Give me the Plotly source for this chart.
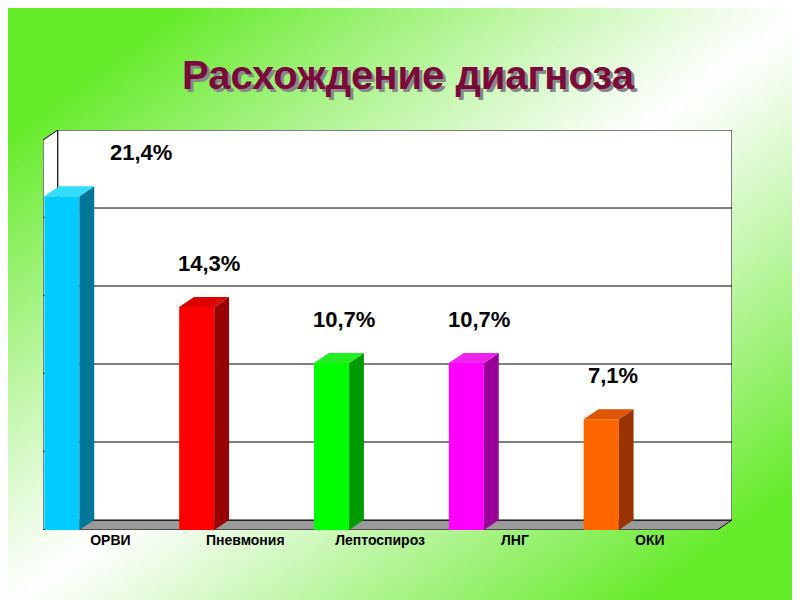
import plotly.graph_objects as go
import zlib, struct, base64

categories = ["ОРВИ", "Пневмония", "Лептоспироз", "ЛНГ", "ОКИ"]
values = [21.4, 14.3, 10.7, 10.7, 7.1]
labels = ["21,4%", "14,3%", "10,7%", "10,7%", "7,1%"]
front = ["#00ccff", "#ff0000", "#00ff00", "#ff00ff", "#ff6600"]
side = ["#007799", "#990000", "#009900", "#990099", "#993300"]
topc = ["#33ddff", "#dd0000", "#22ee22", "#ee22ee", "#dd5500"]

# background gradient PNG
W, H = 160, 120
green = (100, 235, 40)
rows = b""
for y in range(H):
    rows += b"\x00"
    for x in range(W):
        d = (x / (W - 1) + y / (H - 1)) / 2
        g = min(1, abs(2 * d - 1) * 1.25) ** 1.1
        px = [int(255 * (1 - g) + c * g) for c in green]
        rows += bytes(px)
def chunk(t, data):
    c = t + data
    return struct.pack(">I", len(data)) + c + struct.pack(">I", zlib.crc32(c) & 0xffffffff)
png = b"\x89PNG\r\n\x1a\n" + chunk(b"IHDR", struct.pack(">IIBBBBB", W, H, 8, 2, 0, 0, 0)) + chunk(b"IDAT", zlib.compress(rows)) + chunk(b"IEND", b"")
uri = "data:image/png;base64," + base64.b64encode(png).decode()

dx, dy, ymax = 0.11, 0.64, 25
bw = 0.26
L, T, R, B = 35, 122, 76, 78
pw, ph = 800 - L - R, 600 - T - B

fig = go.Figure()
shapes = []
shapes.append(dict(type="path", path=f"M -0.5 0 L 4.5 0 L {4.5+dx} {dy} L {-0.5+dx} {dy} Z",
                   fillcolor="#9a9a9a", line=dict(color="black", width=1), layer="below"))
shapes.append(dict(type="path", path=f"M -0.5 0 L {-0.5+dx} {dy} L {-0.5+dx} {ymax+dy} L -0.5 {ymax} Z",
                   fillcolor="white", line=dict(color="black", width=1), layer="below"))
shapes.append(dict(type="rect", x0=-0.5+dx, x1=4.5+dx, y0=dy, y1=ymax+dy,
                   fillcolor="white", line=dict(color="black", width=1), layer="below"))
for g in [5, 10, 15, 20]:
    shapes.append(dict(type="path", path=f"M -0.5 {g} L {-0.5+dx} {g+dy} L {4.5+dx} {g+dy}",
                       line=dict(color="black", width=1), layer="below"))

xl = [i - 0.49 for i in range(len(values))]
fig.add_trace(go.Bar(x=[a + bw / 2 for a in xl], y=values, width=bw, marker=dict(color=front, line=dict(width=0)),
                     hoverinfo="skip"))
for i, v in enumerate(values):
    a, b = xl[i], xl[i] + bw
    fig.add_trace(go.Scatter(x=[b, b + dx, b + dx, b, b], y=[0, dy, v + dy, v, 0], fill="toself",
                             fillcolor=side[i], line=dict(width=0), mode="lines", hoverinfo="skip"))
    fig.add_trace(go.Scatter(x=[a, b, b + dx, a + dx, a], y=[v, v, v + dy, v + dy, v], fill="toself",
                             fillcolor=topc[i], line=dict(width=0), mode="lines", hoverinfo="skip"))

anns = []
for i, v in enumerate(values):
    anns.append(dict(x=i - 0.27 + (0.5 if i == 0 else 0), y=v + 2.8, text=labels[i], showarrow=False, xref="x", yref="y",
                     font=dict(family="Arial", size=22, color="black", weight="bold")))
for off, col in [(3, "#888888"), (0, "#7a0a3a")]:
    anns.append(dict(x=(400 - L) / pw, y=1, xref="paper", yref="paper", xshift=off, yshift=-off + 55,
                     yanchor="middle", text="Расхождение диагноза",
                     showarrow=False, font=dict(family="Arial", size=40, color=col, weight="bold")))

fig.update_layout(
    width=800, height=600, showlegend=False,
    margin=dict(l=L, r=R, t=T, b=B),
    paper_bgcolor="white", plot_bgcolor="rgba(0,0,0,0)",
    images=[dict(source=uri, xref="paper", yref="paper", x=-L / pw, y=1 + T / ph, sizex=800 / pw, sizey=600 / ph,
                 sizing="stretch", layer="below", xanchor="left", yanchor="top")],
    shapes=shapes, annotations=anns,
    xaxis=dict(range=[-0.5, 4.5 + dx], tickvals=[0, 1, 2, 3, 4], ticktext=categories, showgrid=False,
               zeroline=False, showline=False, ticks="", tickfont=dict(family="Arial", size=14, color="black", weight="bold")),
    yaxis=dict(range=[0, ymax + dy], showgrid=False, zeroline=False, showticklabels=False),
)
fig.write_html("out.html")
